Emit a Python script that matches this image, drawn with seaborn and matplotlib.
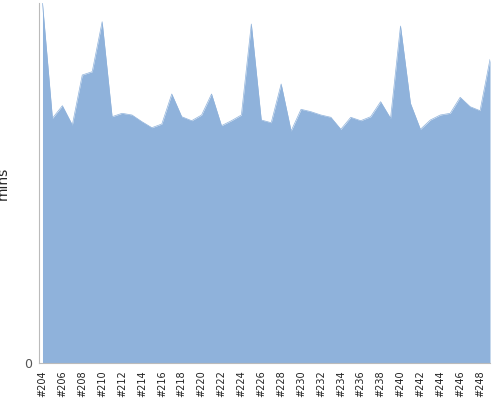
import matplotlib
matplotlib.use("Agg")
import matplotlib.pyplot as plt
import numpy as np
import pandas as pd
import seaborn as sns

builds = [f"#{n}" for n in range(204, 250)]
minutes = [35.97, 24.47, 25.73, 23.80, 28.80, 29.13, 34.13, 24.63, 24.97, 24.80,
           24.13, 23.53, 23.90, 26.90, 24.63, 24.23, 24.80, 26.90, 23.73, 24.23,
           24.80, 33.90, 24.30, 24.03, 27.90, 23.20, 25.37, 25.13, 24.80, 24.57,
           23.37, 24.57, 24.23, 24.63, 26.13, 24.47, 33.70, 25.97, 23.37, 24.30,
           24.80, 24.97, 26.57, 25.63, 25.23, 30.37]

df = pd.DataFrame({"build": builds, "mins": minutes})
x = np.arange(len(df))

sns.set_style("white")
fig = plt.figure(figsize=(5, 4), dpi=100)
ax = fig.add_axes([0.078, 0.0925, 0.902, 0.9])
sns.lineplot(x=x, y=df["mins"], ax=ax, color="#8fb2db", linewidth=0.5)
ax.fill_between(x, df["mins"], color="#8fb2db", linewidth=0)

ax.set_xlim(x[0] - 0.35, x[-1])
ax.set_ylim(0, 36)
ax.set_yticks([0])
ax.set_yticklabels(["0"], color="#555555", fontsize=9)
ax.set_xticks(x)
ax.set_xticklabels([b if i % 2 == 0 else "" for i, b in enumerate(builds)],
                   rotation=90, fontsize=7, color="#222222")
ax.tick_params(axis="x", length=3, color="#aaaaaa", pad=2)
ax.tick_params(axis="y", length=3, color="#aaaaaa", pad=2)
ax.set_xlabel("")
ax.set_ylabel("mins", fontsize=10, labelpad=10)
for side in ["top", "right"]:
    ax.spines[side].set_visible(False)
for side in ["left", "bottom"]:
    ax.spines[side].set_color("#bbbbbb")

fig.savefig("out.png", dpi=100)
